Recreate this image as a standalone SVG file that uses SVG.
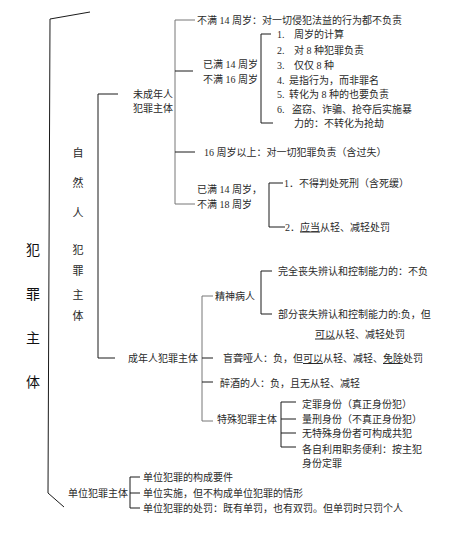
<svg xmlns="http://www.w3.org/2000/svg" width="450" height="536" viewBox="0 0 450 536">
<style>
text{font-family:"Liberation Serif","Noto Sans CJK SC",serif;font-size:10px;fill:#2a2a2a}
.big{font-size:14px;fill:#111}
.v{font-size:11px;text-anchor:middle}
.u{text-decoration:underline}
line,polyline{stroke:#1a1a1a;stroke-width:1;fill:none}
.g{stroke:#777}
</style>
<rect width="450" height="536" fill="#fff"/>
<g id="connectors">
<polyline points="90,12 50,19 48,493 64,507"/>
<polyline points="118,94 98,94 98,358 115,358"/>
<polyline class="g" points="195,20 175,20 175,204 195,204"/>
<line x1="175" y1="71" x2="193" y2="71"/>
<line x1="175" y1="152" x2="195" y2="152"/>
<polyline points="271,34 261,34 261,123 273,123"/>
<polyline points="283,183 269,183 269,227 285,227"/>
<polyline class="g" points="213,296 202,296 202,421 213,421"/>
<line x1="202" y1="358" x2="213" y2="358"/>
<line x1="202" y1="382" x2="213" y2="382"/>
<polyline points="272,271 261,271 261,314 272,314"/>
<polyline points="296,402 281,402 281,447 296,447"/>
<line x1="281" y1="419" x2="296" y2="419"/>
<line x1="281" y1="433" x2="296" y2="433"/>
<polyline points="140,477 130,477 130,508 140,508"/>
<line x1="130" y1="493" x2="140" y2="493"/>
</g>
<g id="root"><text class="big" x="26" y="255">犯</text><text class="big" x="26" y="299">罪</text><text class="big" x="26" y="343">主</text><text class="big" x="26" y="387">体</text></g>
<g id="natural"><text class="v" x="78" y="157">自</text><text class="v" x="78" y="187">然</text><text class="v" x="78" y="217">人</text><text class="v" x="78" y="254">犯</text><text class="v" x="78" y="275">罪</text><text class="v" x="78" y="299">主</text><text class="v" x="78" y="320">体</text></g>
<g id="minor"><text x="133" y="97.5">未成年人</text><text x="133" y="111.5">犯罪主体</text></g>
<g id="under14"><text x="197" y="23.5">不满 14 周岁：对一切侵犯法益的行为都不负责</text></g>
<g id="age14to16"><text x="203" y="67.5">已满 14 周岁</text><text x="203" y="82.5">不满 16 周岁</text></g>
<g id="items"><text x="277" y="37.5">1.<tspan x="294">周岁的计算</tspan></text><text x="277" y="53.5">2.<tspan x="294">对 8 种犯罪负责</tspan></text><text x="277" y="68.5">3.<tspan x="294">仅仅 8 种</tspan></text><text x="277" y="83.5">4.<tspan x="289">是指行为，而非罪名</tspan></text><text x="277" y="97.5">5.<tspan x="289">转化为 8 种的也要负责</tspan></text><text x="277" y="112.5">6.<tspan x="292">盗窃、诈骗、抢夺后实施暴</tspan></text><text x="294" y="126.5">力的：不转化为抢劫</text></g>
<g id="over16"><text x="204" y="156">16 周岁以上：对一切犯罪负责（含过失）</text></g>
<g id="age14to18"><text x="197" y="192.5">已满 14 周岁，</text><text x="197" y="207.5">不满 18 周岁</text></g>
<g id="nodeath"><text x="284" y="186.5">1．不得判处死刑（含死缓）</text></g>
<g id="lighter"><text x="285" y="230.5">2．<tspan class="u">应当</tspan>从轻、减轻处罚</text></g>
<g id="adult"><text x="128" y="362">成年人犯罪主体</text></g>
<g id="mental"><text x="215" y="299.5">精神病人</text></g>
<g id="fullloss"><text x="278" y="274.5">完全丧失辨认和控制能力的：不负</text></g>
<g id="partloss"><text x="278" y="317.5">部分丧失辨认和控制能力的:负，但</text><text x="315" y="337.5"><tspan class="u">可以</tspan>从轻、减轻处罚</text></g>
<g id="deaf"><text x="223" y="362">盲聋哑人：负，但<tspan class="u">可以</tspan>从轻、减轻、<tspan class="u">免除</tspan>处罚</text></g>
<g id="drunk"><text x="220" y="386.5">醉酒的人：负，且无从轻、减轻</text></g>
<g id="special"><text x="217" y="422.5">特殊犯罪主体</text></g>
<g id="specitems"><text x="302" y="407.5">定罪身份（真正身份犯）</text><text x="302" y="422.5">量刑身份（不真正身份犯）</text><text x="302" y="436.5">无特殊身份者可构成共犯</text><text x="302" y="452.5">各自利用职务便利：按主犯</text><text x="302" y="466.5">身份定罪</text></g>
<g id="unit"><text x="68" y="496.5">单位犯罪主体</text></g>
<g id="unititems"><text x="143" y="480.5">单位犯罪的构成要件</text><text x="143" y="496.5">单位实施，但不构成单位犯罪的情形</text><text x="143" y="511.5">单位犯罪的处罚：既有单罚，也有双罚。但单罚时只罚个人</text></g>
</svg>
